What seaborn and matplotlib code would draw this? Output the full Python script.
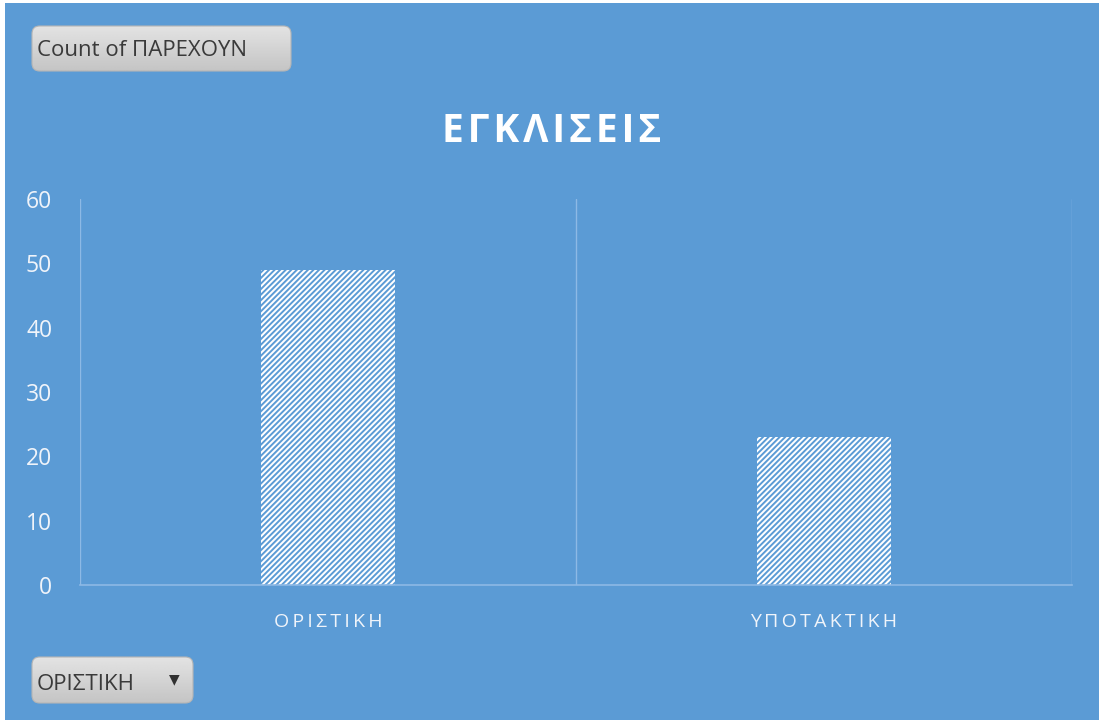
import numpy as np
import pandas as pd
import matplotlib
matplotlib.use("Agg")
import matplotlib.pyplot as plt
from matplotlib.patches import FancyBboxPatch, Rectangle
import seaborn as sns

# ---- data ----
categories = ["ΟΡΙΣΤΙΚΗ", "ΥΠΟΤΑΚΤΙΚΗ"]
counts = [49, 23]
y_ticks = [0, 10, 20, 30, 40, 50, 60]
title_text = "ΕΓΚΛΙΣΕΙΣ"
field_button = "Count of ΠΑΡΕΧΟΥΝ"
filter_button = "ΟΡΙΣΤΙΚΗ"

BLUE = "#5B9BD5"
GRID = "#8DB9E5"
TICK = "#F0F4FA"

sns.set_theme(style="white")
plt.rcParams["font.family"] = ["Open Sans", "DejaVu Sans"]
plt.rcParams["hatch.linewidth"] = 1.4

W, H = 1099, 720
fig = plt.figure(figsize=(W / 100, H / 100), dpi=100, facecolor="white")
fig.patches.append(Rectangle((5 / W, 0), 1 - 5 / W, 1 - 3 / H, transform=fig.transFigure,
                             facecolor=BLUE, edgecolor="none", zorder=-10))

ax = fig.add_axes([80 / W, 1 - 585 / H, (1072 - 80) / W, (585 - 199) / H])
ax.set_facecolor(BLUE)

df = pd.DataFrame({"cat": categories, "count": counts})
sns.barplot(data=df, x="cat", y="count", ax=ax, width=0.27, color="white",
            linewidth=0, saturation=1)
for p in ax.patches:
    p.set_facecolor("white")
    p.set_edgecolor(BLUE)
    p.set_hatch("//////")
    p.set_linewidth(0)

SP = "\u2009"
HSP = "\u200A"
n = len(categories)
ax.set_xlim(-0.5, n - 0.5)
ax.set_ylim(y_ticks[0], y_ticks[-1])
ax.set_yticks(y_ticks)
ax.set_xticks(range(n))
ax.set_xticklabels([SP.join(list(c)) for c in categories], color=TICK, fontsize=14)
ax.set_yticklabels([str(t) for t in y_ticks], color=TICK, fontsize=16.5)
ax.set_xticks(np.arange(-0.5, n, 1.0), minor=True)
ax.grid(False)
ax.xaxis.grid(True, which="minor", color=GRID, linewidth=1)
ax.tick_params(axis="both", which="both", length=0)
ax.tick_params(axis="x", pad=20)
ax.tick_params(axis="y", pad=20)
for s in ["top", "right", "left"]:
    ax.spines[s].set_visible(False)
ax.spines["bottom"].set_color(GRID)
ax.spines["bottom"].set_linewidth(1.2)
ax.set_xlabel("")
ax.set_ylabel("")

fig.text(552 / W, 1 - 132 / H, HSP.join(list(title_text)), color="white", fontsize=28,
         fontweight="bold", ha="center", va="center")

grad = np.linspace(0.89, 0.77, 64).reshape(-1, 1)

def button(x0, y0, x1, y1):
    b = FancyBboxPatch((x0 / W, 1 - y1 / H), (x1 - x0) / W, (y1 - y0) / H,
                       boxstyle="round,pad=0,rounding_size=0.007",
                       transform=fig.transFigure, facecolor="none",
                       edgecolor="#B5B5B5", linewidth=0.8, mutation_aspect=W / H,
                       zorder=5)
    bax = fig.add_axes([x0 / W, 1 - y1 / H, (x1 - x0) / W, (y1 - y0) / H])
    bax.set_axis_off()
    im = bax.imshow(grad, cmap="gray", vmin=0, vmax=1, aspect="auto",
                    extent=[0, 1, 0, 1], origin="upper")
    bax.set_xlim(0, 1)
    bax.set_ylim(0, 1)
    fig.patches.append(b)
    im.set_clip_path(b)
    return bax

button(32, 26, 291, 71)
fig.text(37 / W, 1 - 51 / H, field_button, color="#3A3A3A", fontsize=16,
         ha="left", va="center", zorder=10)
button(32, 657, 193, 703)
fig.text(37 / W, 1 - 684 / H, filter_button, color="#3A3A3A", fontsize=16,
         ha="left", va="center", zorder=10)
fig.text(174 / W, 1 - 679 / H, "▼", color="#303030", fontsize=10,
         ha="center", va="center", family="DejaVu Sans", zorder=10)

fig.savefig("out.png", dpi=100, facecolor="white")
